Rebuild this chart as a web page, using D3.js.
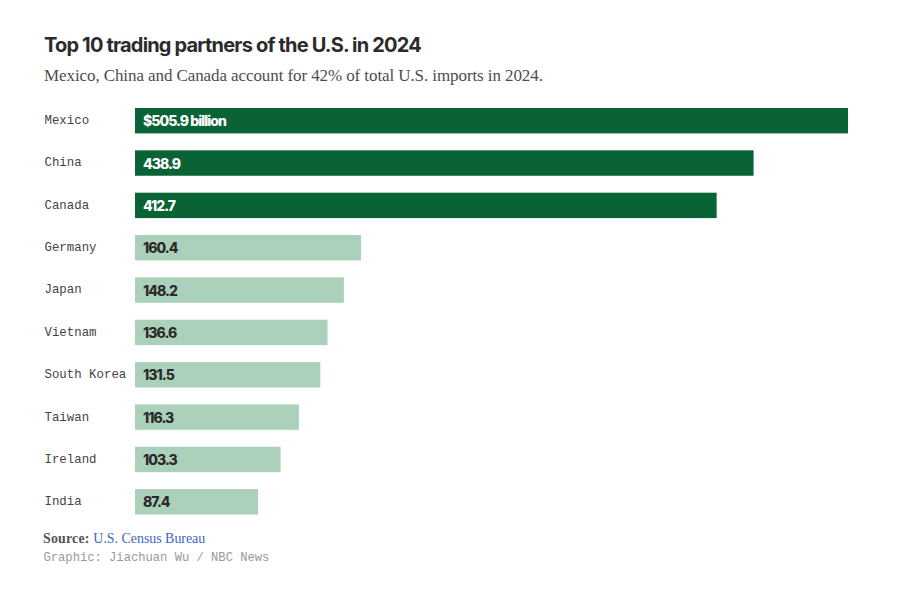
<!DOCTYPE html>
<html><head><meta charset="utf-8">
<script src="https://d3js.org/d3.v7.min.js"></script>
<style>html,body{margin:0;padding:0;background:#fff}svg{display:block}</style></head>
<body><svg id="c" width="900" height="600"></svg>
<script>
const categories=["Mexico","China","Canada","Germany","Japan","Vietnam","South Korea","Taiwan","Ireland","India"];
const values=[505.9,438.9,412.7,160.4,148.2,136.6,131.5,116.3,103.3,87.4];
const valueLabels=["$505.9 billion","438.9","412.7","160.4","148.2","136.6","131.5","116.3","103.3","87.4"];
const highlighted=["Mexico","China","Canada"];
const svg=d3.select("#c");
const x=d3.scaleLinear().domain([0,505.9]).range([135,848]);
const y=d3.scaleBand().domain(categories).range([108,514.5]).paddingInner(0.4).paddingOuter(0);
const sans="Inter, 'Noto Sans', sans-serif", serif="'Liberation Serif', serif", mono="'Liberation Mono', monospace";
svg.append("text").attr("x",44).attr("y",52).attr("font-family",sans).attr("font-size",20).attr("font-weight",700).attr("letter-spacing",-0.82).attr("fill","#2b2b2b").text("Top 10 trading partners of the U.S. in 2024");
svg.append("text").attr("x",44).attr("y",81).attr("font-family",serif).attr("font-size",17).attr("letter-spacing",-0.09).attr("fill","#4d4d4d").text("Mexico, China and Canada account for 42% of total U.S. imports in 2024.");
const rows=svg.selectAll("g.row").data(categories).join("g").attr("class","row");
rows.append("rect").attr("x",x(0)).attr("y",d=>y(d)).attr("width",(d,i)=>x(values[i])-x(0)).attr("height",y.bandwidth()).attr("fill",d=>highlighted.includes(d)?"#096334":"#abd1bb");
rows.append("text").attr("x",44.5).attr("y",d=>y(d)+y.bandwidth()/2+3.4).attr("font-family",mono).attr("font-size",12.4).attr("fill","#444").text(d=>d);
rows.append("text").attr("x",x(0)+8).attr("y",d=>y(d)+y.bandwidth()/2+5.5).attr("font-family",sans).attr("font-size",14).attr("font-weight",800).attr("letter-spacing",-0.95).attr("fill",d=>highlighted.includes(d)?"#fff":"#2b2b2b").text((d,i)=>valueLabels[i]);
const src=svg.append("text").attr("x",43).attr("y",543).attr("font-family",serif).attr("font-size",13.9);
src.append("tspan").attr("font-weight",700).attr("fill","#555").attr("letter-spacing",0.2).text("Source: ");
src.append("tspan").attr("fill","#3d66c4").text("U.S. Census Bureau");
svg.append("text").attr("x",43.5).attr("y",561).attr("font-family",mono).attr("font-size",12.15).attr("fill","#999").text("Graphic: Jiachuan Wu / NBC News");
</script></body></html>
